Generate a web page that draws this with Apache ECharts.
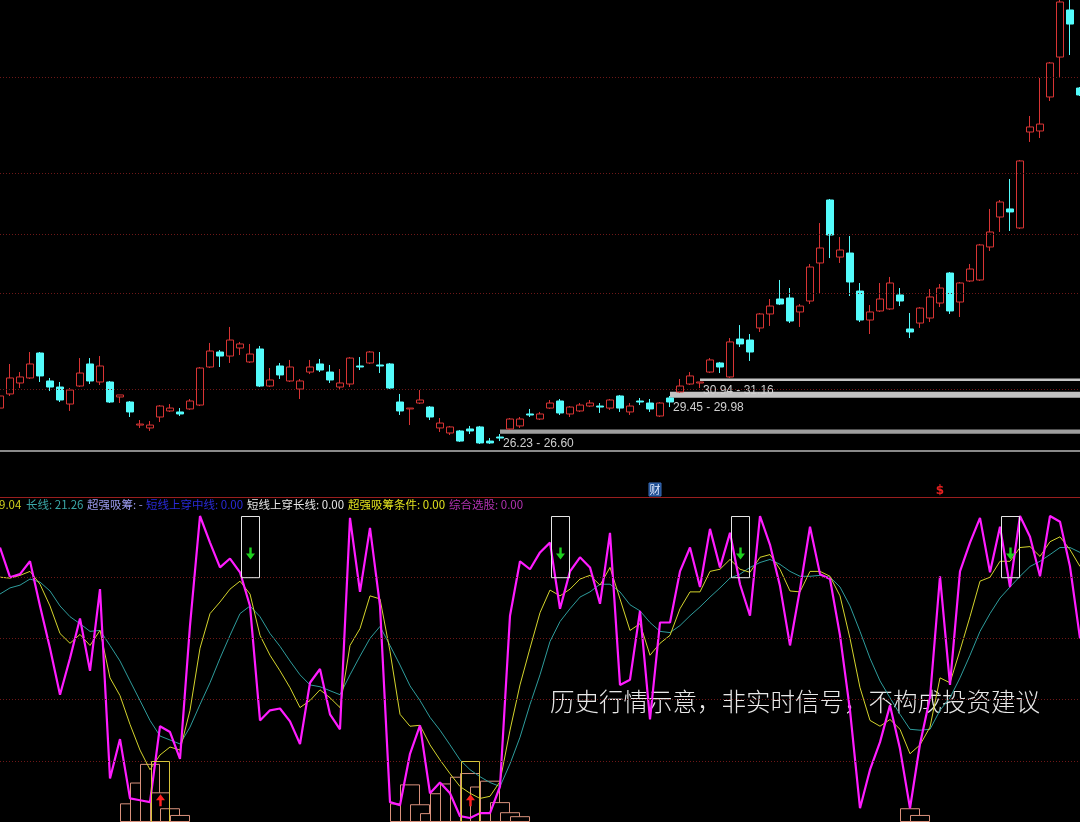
<!DOCTYPE html>
<html><head><meta charset="utf-8">
<script src="https://cdn.jsdelivr.net/npm/echarts@6/dist/echarts.min.js"></script>
<style>html,body{margin:0;padding:0;background:#000;overflow:hidden}#c{width:1080px;height:822px}</style>
</head><body><div id="c"></div>
<script>
// ---------- data ----------
const days = Array.from({length:109}, (_, i) => 'D' + (i + 1));
// [open, close, low, high]
const ohlc = [
[28.52,29.60,28.17,29.87],[29.78,31.21,29.60,32.46],[30.76,31.30,30.31,31.74],[31.21,32.46,31.12,33.53],
[33.44,31.39,30.85,33.53],[30.94,30.40,30.04,31.21],[30.40,29.24,29.06,30.85],[28.88,30.13,28.26,30.31],
[30.49,31.65,30.40,32.99],[32.46,30.94,30.67,32.99],[30.85,32.28,30.58,33.17],[30.85,29.06,28.97,30.94],
[29.51,29.69,28.97,29.69],[29.06,28.17,27.72,29.15],[27.00,27.09,26.74,27.45],[26.74,27.00,26.47,27.36],
[27.72,28.70,27.27,28.79],[28.26,28.52,28.17,28.88],[28.17,27.99,27.81,28.52],[28.44,29.15,28.35,29.33],
[28.79,32.10,28.70,32.19],[32.19,33.62,32.10,34.34],[33.53,33.17,32.19,33.71],[33.17,34.60,32.55,35.77],
[33.89,34.25,33.26,34.43],[32.64,33.35,32.55,34.25],[33.80,30.49,30.40,34.07],[30.49,31.03,30.40,32.10],
[32.28,31.48,31.12,32.55],[30.94,32.19,30.85,32.82],[30.22,30.94,29.33,31.12],[31.74,32.19,31.56,32.82],
[32.46,31.92,31.74,32.91],[31.74,31.03,30.76,32.37],[30.40,30.76,30.22,32.01],[30.67,32.99,30.40,33.08],
[32.28,32.19,31.92,33.08],[32.55,33.53,32.46,33.62],[32.37,32.28,31.65,33.53],[32.46,30.31,30.22,32.55],
[29.06,28.26,27.90,29.78],[28.44,28.52,27.00,28.52],[28.97,29.24,28.88,30.13],[28.61,27.72,27.45,28.70],
[26.74,27.18,26.38,27.63],[26.29,26.83,26.11,26.92],[26.47,25.57,25.49,26.56],[26.65,26.47,26.20,26.92],
[26.83,25.40,25.31,26.92],[25.57,25.40,25.31,25.84],[25.93,25.84,25.57,26.20],[26.65,27.54,26.56,27.63],
[26.92,27.54,26.74,27.72],[27.99,27.90,27.72,28.44],[27.54,27.99,27.45,28.17],[28.52,28.97,28.44,29.24],
[29.15,28.08,27.90,29.33],[27.99,28.61,27.72,28.70],[28.26,28.79,28.17,28.97],[28.70,28.97,28.61,29.24],
[28.70,28.61,28.08,28.97],[28.52,29.24,28.35,29.33],[29.60,28.52,28.17,29.69],[28.17,28.70,27.90,28.97],
[29.15,29.06,28.79,29.42],[28.97,28.44,28.17,29.33],[27.81,28.97,27.72,29.06],[29.42,29.06,28.61,29.60],
[29.96,30.49,29.87,31.12],[30.67,31.39,30.58,31.74],[30.76,30.85,30.31,30.85],[31.74,32.82,31.65,32.99],
[32.55,32.19,31.65,32.64],[31.30,34.43,31.21,34.78],[34.69,34.25,33.98,35.94],[34.60,33.53,32.73,35.14],
[35.68,36.93,35.32,37.02],[36.93,37.64,35.86,38.27],[38.27,37.82,37.73,39.97],[38.36,36.30,36.12,39.25],
[37.11,37.64,35.77,37.82],[38.09,41.13,37.82,41.40],[41.49,42.83,38.72,45.06],[47.12,43.99,41.93,47.21],
[42.02,42.65,41.49,43.81],[42.38,39.79,38.54,43.90],[38.98,36.39,36.21,39.70],[36.39,37.11,35.14,37.73],
[37.20,38.27,37.11,39.70],[37.38,39.70,37.29,40.24],[38.63,38.09,37.64,39.25],[35.59,35.32,34.78,37.02],
[36.12,37.46,35.68,37.55],[36.57,38.45,36.21,39.16],[37.91,39.25,37.55,39.61],[40.59,37.20,36.93,40.68],
[38.00,39.70,36.66,39.79],[39.88,40.95,39.79,41.40],[39.97,43.10,39.88,43.19],[42.92,44.26,42.56,46.32],
[45.60,46.94,44.26,47.12],[46.32,46.05,44.35,49.00],[44.62,50.61,44.53,50.70],[53.20,53.65,52.31,54.63],
[53.29,53.91,52.66,58.03],[56.33,59.37,55.97,59.46],[59.90,64.82,58.12,65.00],[64.11,62.85,60.08,65.00],
[57.13,56.51,56.42,57.22]
];
const fastLine = [
89.7,80.0,81.0,85.2,70.6,56.8,41.6,53.5,66.5,49.4,
76.1,14.2,27.1,7.7,7.1,6.5,31.3,29.4,20.6,64.2,
100,91.3,83.2,86.1,81.6,70.6,33.2,36.5,37.1,32.9,
25.5,45.5,50.0,35.2,30.3,99.4,75.2,96.1,70.6,6.5,
5.5,22.3,31.6,9.4,12.9,9.4,1.9,1.3,2.9,2.9,
11.6,67.4,85.2,82.6,88.1,91.3,69.7,81.9,86.5,83.2,
71.3,94.5,44.8,46.5,69.0,33.5,65.2,65.2,81.9,89.7,
76.8,95.8,83.2,94.5,77.7,67.4,100,90.6,77.1,57.7,
76.1,96.5,81.0,79.4,61.0,36.5,4.5,17.1,26.1,38.1,
23.9,4.5,25.5,40.6,80.3,44.8,81.9,91.3,99.4,81.6,
96.5,76.8,100,93.2,80.3,100,98.1,83.5,60.0
];
const shortLine = [
80.0,79.7,80.6,81.9,77.7,70.6,61.6,58.4,61.3,57.7,
62.6,47.1,41.3,31.9,23.5,17.1,21.9,24.5,23.5,36.5,
56.8,68.1,71.9,76.1,78.7,74.5,61.0,54.5,49.4,43.9,
37.4,39.7,43.2,40.6,37.4,57.7,63.2,73.9,72.9,55.8,
35.2,31.3,31.6,25.2,20.3,15.8,11.6,9.4,7.7,8.4,
13.2,30.0,44.8,56.8,68.4,75.8,73.9,76.1,79.4,80.6,
77.4,83.2,72.9,62.6,64.8,54.5,58.4,61.0,69.7,75.2,
75.2,81.9,82.6,85.8,82.6,81.6,86.5,87.4,82.6,75.5,
75.2,81.9,81.9,80.3,73.9,60.0,43.9,33.2,31.3,33.5,
30.3,22.3,25.2,31.0,47.1,45.5,56.1,67.1,78.7,80.0,
85.2,85.2,89.7,90.0,86.8,91.6,93.2,89.0,83.5
];
const longLine = [
74.5,76.5,77.4,79.4,78.4,75.5,70.6,67.1,64.8,62.3,
62.6,57.7,52.6,46.1,39.7,33.2,28.1,26.8,25.5,31.0,
38.4,45.5,53.5,61.0,68.1,70.6,67.1,61.6,57.4,52.6,
48.1,44.8,44.2,42.9,41.6,48.1,54.2,60.0,63.9,57.7,
51.3,44.5,39.7,34.2,30.0,25.2,20.3,17.1,14.8,12.9,
11.6,19.0,27.7,38.4,48.1,59.0,65.5,69.7,73.5,75.2,
77.7,77.7,75.2,71.0,69.0,65.2,62.3,61.9,64.2,67.4,
70.3,73.5,76.5,79.7,81.0,83.2,84.8,85.8,84.2,81.9,
80.3,80.3,80.6,80.0,76.8,70.6,62.3,53.5,46.1,40.6,
35.2,30.3,30.0,30.3,36.5,40.6,47.1,54.5,62.3,68.1,
73.2,76.8,80.3,83.5,85.2,87.4,89.7,89.7,88.1
];
// [candle index, value]
const accumBars = [
[13,6.1],[14,12.9],[15,19.0],[16,9.7],[17,4.5],[18,2.3],
[40,6.1],[41,12.3],[42,5.8],[43,2.9],[44,9.4],[45,12.6],[46,14.8],[47,16.0],[48,11.6],
[49,13.5],[50,6.5],[51,3.2],[52,1.9],
[91,4.5],[92,2.3]
];
const sellSignals = [25, 56, 74, 101];
const buySignals = [16, 47];
const priceGridLevels = [58.12, 49.53, 44.08, 38.81, 30.22];
const indicatorGridLevels = [20, 40, 60, 80];
const rangeStart = [50, 67, 70];
const rangeLow = [26.23, 29.45, 30.94];
const rangeHigh = [26.60, 29.98, 31.16];
const legendItems = [
  ['9.04', '#d2d21e'], ['长线: 21.26', '#3aa6a6'], ['超强吸筹: -', '#9a9aee'],
  ['短线上穿中线: 0.00', '#2a2ad8'], ['短线上穿长线: 0.00', '#e6e6e6'],
  ['超强吸筹条件: 0.00', '#e0e01e'], ['综合选股: 0.00', '#b232b2']
];
const legendX = [-1, 26, 87, 146, 247, 348, 449];

// ---------- chart ----------
const chart = echarts.init(document.getElementById('c'));
const rangeColors = ['#9e9e9e', '#c2c2c2', '#c6c6c6'];
const markAreaData = rangeStart.map((s, k) => [
  {name: rangeLow[k].toFixed(2) + ' - ' + rangeHigh[k].toFixed(2), xAxis: days[s], yAxis: rangeLow[k],
   itemStyle: {color: rangeColors[k]}},
  {xAxis: days[days.length - 1], yAxis: rangeHigh[k]}
]);

const signalData = sellSignals.map(i => [i, 100, 80, 87.4, 0])
  .concat(buySignals.map(i => [i, 20, 0, 7.4, 1]));

const option = {
  backgroundColor: '#000',
  animation: false,
  grid: [
    {left: 0, right: 0, top: 0, height: 450},
    {left: 0, right: 0, top: 516, height: 310}
  ],
  xAxis: [
    {type: 'category', data: days, gridIndex: 0, show: false, boundaryGap: false},
    {type: 'category', data: days, gridIndex: 1, show: false, boundaryGap: false}
  ],
  yAxis: [
    {type: 'value', gridIndex: 0, min: 24.77, max: 65, show: false},
    {type: 'value', gridIndex: 1, min: 0, max: 100, show: false}
  ],
  series: [
    {
      type: 'candlestick', xAxisIndex: 0, yAxisIndex: 0, data: ohlc, barWidth: 7, z: 3, clip: false,
      itemStyle: {color: '#000', color0: '#54fcfc', borderColor: '#d83434', borderColor0: '#54fcfc', borderWidth: 1},
      markLine: {
        silent: true, symbol: ['none', 'none'], label: {show: false},
        lineStyle: {color: '#6e1818', type: [1, 2], width: 1},
        data: priceGridLevels.map(v => ({yAxis: v}))
      },
      markArea: {
        silent: true,
        label: {show: true, position: [3, '100%'], offset: [0, 4], color: '#cfcfcf',
                fontSize: 12, fontFamily: 'Liberation Sans', formatter: '{b}'},
        data: markAreaData
      }
    },
    {
      type: 'bar', xAxisIndex: 1, yAxisIndex: 1, data: accumBars, barWidth: 20, z: 1, silent: true,
      itemStyle: {color: '#000', borderColor: '#d8917c', borderWidth: 1}
    },
    {
      type: 'line', xAxisIndex: 1, yAxisIndex: 1, data: longLine, symbol: 'none', z: 3,
      lineStyle: {color: '#2e9c9c', width: 1},
      markLine: {
        silent: true, symbol: ['none', 'none'], label: {show: false},
        lineStyle: {color: '#6e1818', type: [1, 2], width: 1},
        data: indicatorGridLevels.map(v => ({yAxis: v}))
      }
    },
    {
      type: 'line', xAxisIndex: 1, yAxisIndex: 1, data: shortLine, symbol: 'none', z: 3,
      lineStyle: {color: '#d4d42c', width: 1}
    },
    {
      type: 'line', xAxisIndex: 1, yAxisIndex: 1, data: fastLine, symbol: 'none', z: 4,
      lineStyle: {color: '#ff1cff', width: 2.2}
    },
    {
      type: 'custom', xAxisIndex: 1, yAxisIndex: 1, data: signalData, z: 5, silent: true,
      renderItem: function (params, api) {
        const t = api.coord([api.value(0), api.value(1)]);
        const b = api.coord([api.value(0), api.value(2)]);
        const a = api.coord([api.value(0), api.value(3)]);
        const buy = api.value(4) === 1;
        const cx = Math.round(t[0]) + 0.5;
        const ay = a[1];
        const children = [{
          type: 'rect',
          shape: {x: cx - 9, y: Math.round(t[1]) + 0.5, width: 18, height: b[1] - t[1]},
          style: {fill: null, stroke: buy ? '#d6c23a' : '#e6e6e6', lineWidth: 1}
        }];
        let pts;
        if (!buy) {
          pts = [[cx - 1.2, ay - 7], [cx + 1.2, ay - 7], [cx + 1.2, ay - 1], [cx + 4.5, ay - 1],
                 [cx, ay + 5], [cx - 4.5, ay - 1], [cx - 1.2, ay - 1]];
        } else {
          pts = [[cx - 1.2, ay + 7], [cx + 1.2, ay + 7], [cx + 1.2, ay + 1], [cx + 4.5, ay + 1],
                 [cx, ay - 5], [cx - 4.5, ay + 1], [cx - 1.2, ay + 1]];
        }
        children.push({type: 'polygon', shape: {points: pts},
                       style: {fill: buy ? '#ff2222' : '#1ed21e'}});
        return {type: 'group', children: children};
      }
    }
  ],
  graphic: [
    {type: 'line', shape: {x1: 0, y1: 451, x2: 1080, y2: 451}, style: {stroke: '#8a8a8a', lineWidth: 2}, silent: true},
    {type: 'line', shape: {x1: 0, y1: 497.5, x2: 1080, y2: 497.5}, style: {stroke: '#9a1e1e', lineWidth: 1}, silent: true},
    {type: 'rect', shape: {x: 649, y: 483, width: 12, height: 13}, style: {fill: '#1d4c8f', stroke: '#3b6cb8'}, silent: true},
    {type: 'text', x: 655, y: 489.5, silent: true,
     style: {text: '财', fill: '#e4ecff', fontSize: 11, fontFamily: 'Noto Sans CJK SC', align: 'center', verticalAlign: 'middle'}},
    {type: 'text', x: 940, y: 491, silent: true,
     style: {text: '$', fill: '#e42020', fontSize: 12, fontWeight: 'bold', fontFamily: 'DejaVu Sans', align: 'center', verticalAlign: 'middle'}},
    {type: 'text', x: 550, y: 702, silent: true,
     style: {text: '历史行情示意，非实时信号，不构成投资建议', fill: '#e8e8e8', fontSize: 24.5,
             fontFamily: 'Noto Sans CJK SC', fontWeight: 300, verticalAlign: 'middle', align: 'left'}}
  ].concat(legendItems.map((it, k) => ({
    type: 'text', x: legendX[k], y: 505, silent: true,
    style: {text: it[0], fill: it[1], fontSize: 11.5, fontFamily: 'Noto Sans CJK SC', verticalAlign: 'middle', align: 'left'}
  })))
};
chart.setOption(option);
</script>
</body></html>
